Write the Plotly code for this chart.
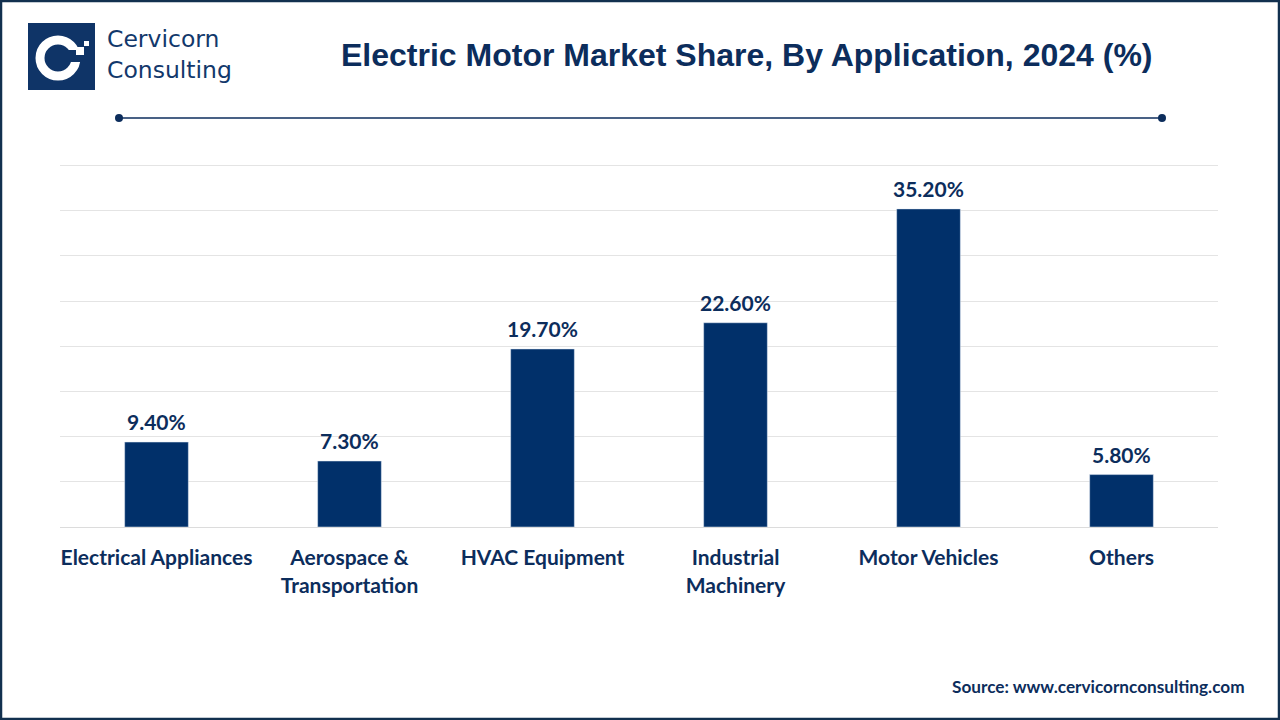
import plotly.graph_objects as go

categories = ["Electrical Appliances", "Aerospace &<br>Transportation", "HVAC Equipment",
              "Industrial<br>Machinery", "Motor Vehicles", "Others"]
values = [9.4, 7.3, 19.7, 22.6, 35.2, 5.8]
labels = ["9.40%", "7.30%", "19.70%", "22.60%", "35.20%", "5.80%"]

W, H = 1280, 720
L, R, T, B = 60, 1218, 161, 527
NAVY = "#0c2d5c"
BAR = "#01306a"

def px(x):
    return (x - L) / (R - L)

def py(y):
    return (B - y) / (B - T)

fig = go.Figure(go.Bar(
    x=categories, y=values, marker_color=BAR, width=0.33, hoverinfo="skip",
))

shapes = []
# outer border
shapes.append(dict(type="rect", xref="paper", yref="paper", x0=px(1), x1=px(W - 1),
                   y0=py(H - 1), y1=py(1), line=dict(color="#12304f", width=2.5), layer="below"))
# title underline with dots
shapes.append(dict(type="line", xref="paper", yref="paper", x0=px(119), x1=px(1162),
                   y0=py(118), y1=py(118), line=dict(color=NAVY, width=1.5)))
for cx in (119, 1162):
    shapes.append(dict(type="circle", xref="paper", yref="paper", x0=px(cx - 4), x1=px(cx + 4),
                       y0=py(118 + 4), y1=py(118 - 4), fillcolor=NAVY, line=dict(width=0)))
# logo square
shapes.append(dict(type="rect", xref="paper", yref="paper", x0=px(28), x1=px(95),
                   y0=py(90), y1=py(23), fillcolor="#0f3467", line=dict(width=0)))
# C ring
shapes.append(dict(type="circle", xref="paper", yref="paper", x0=px(40), x1=px(76),
                   y0=py(76), y1=py(40), fillcolor="rgba(0,0,0,0)", line=dict(color="white", width=9)))
# opening of C
shapes.append(dict(type="rect", xref="paper", yref="paper", x0=px(62), x1=px(84),
                   y0=py(62), y1=py(50), fillcolor="#0f3467", line=dict(width=0)))
# small squares
shapes.append(dict(type="rect", xref="paper", yref="paper", x0=px(76), x1=px(84),
                   y0=py(55), y1=py(47), fillcolor="white", line=dict(width=0)))
shapes.append(dict(type="rect", xref="paper", yref="paper", x0=px(84), x1=px(89),
                   y0=py(46), y1=py(41), fillcolor="white", line=dict(width=0)))

annotations = [
    dict(text="<b>Electric Motor Market Share, By Application, 2024 (%)</b>", xref="paper", yref="paper",
         x=px(746), y=py(55), xanchor="center", yanchor="middle", showarrow=False,
         font=dict(family="Liberation Sans", size=32, color=NAVY)),
    dict(text="Cervicorn<br>Consulting", xref="paper", yref="paper", x=px(105), y=py(54),
         xanchor="left", yanchor="middle", showarrow=False, align="left",
         font=dict(family="DejaVu Sans", size=23.5, color="#12386b")),
    dict(text="<b>Source: www.cervicornconsulting.com</b>", xref="paper", yref="paper",
         x=px(1247), y=py(686), xanchor="right", yanchor="middle", showarrow=False,
         font=dict(family="Lato", size=17.2, color=NAVY)),
]
for c, v, t in zip(categories, values, labels):
    annotations.append(dict(x=c, y=v, text=t, xref="x", yref="y", showarrow=False,
                            yanchor="bottom", yshift=6,
                            font=dict(family="Lato", size=21, color=NAVY, weight="bold")))

fig.update_layout(
    width=W, height=H, margin=dict(l=L, r=W - R, t=T, b=H - B),
    paper_bgcolor="white", plot_bgcolor="white", showlegend=False,
    bargap=0.67, shapes=shapes, annotations=annotations,
    xaxis=dict(showline=False, ticks="outside", ticklen=12, tickcolor="rgba(0,0,0,0)",
               tickfont=dict(family="Lato", size=21, color=NAVY, weight="bold"), showgrid=False),
    yaxis=dict(range=[0, 40.5], tickvals=[0, 5, 10, 15, 20, 25, 30, 35, 40], showticklabels=False,
               showgrid=True, gridcolor="#e4e4e4", gridwidth=1, zeroline=True,
               zerolinecolor="#dcdcdc", zerolinewidth=1),
)

fig.write_html("out.html", config={"displayModeBar": False},
               post_script="document.body.style.margin='0';document.body.style.overflow='hidden';")
